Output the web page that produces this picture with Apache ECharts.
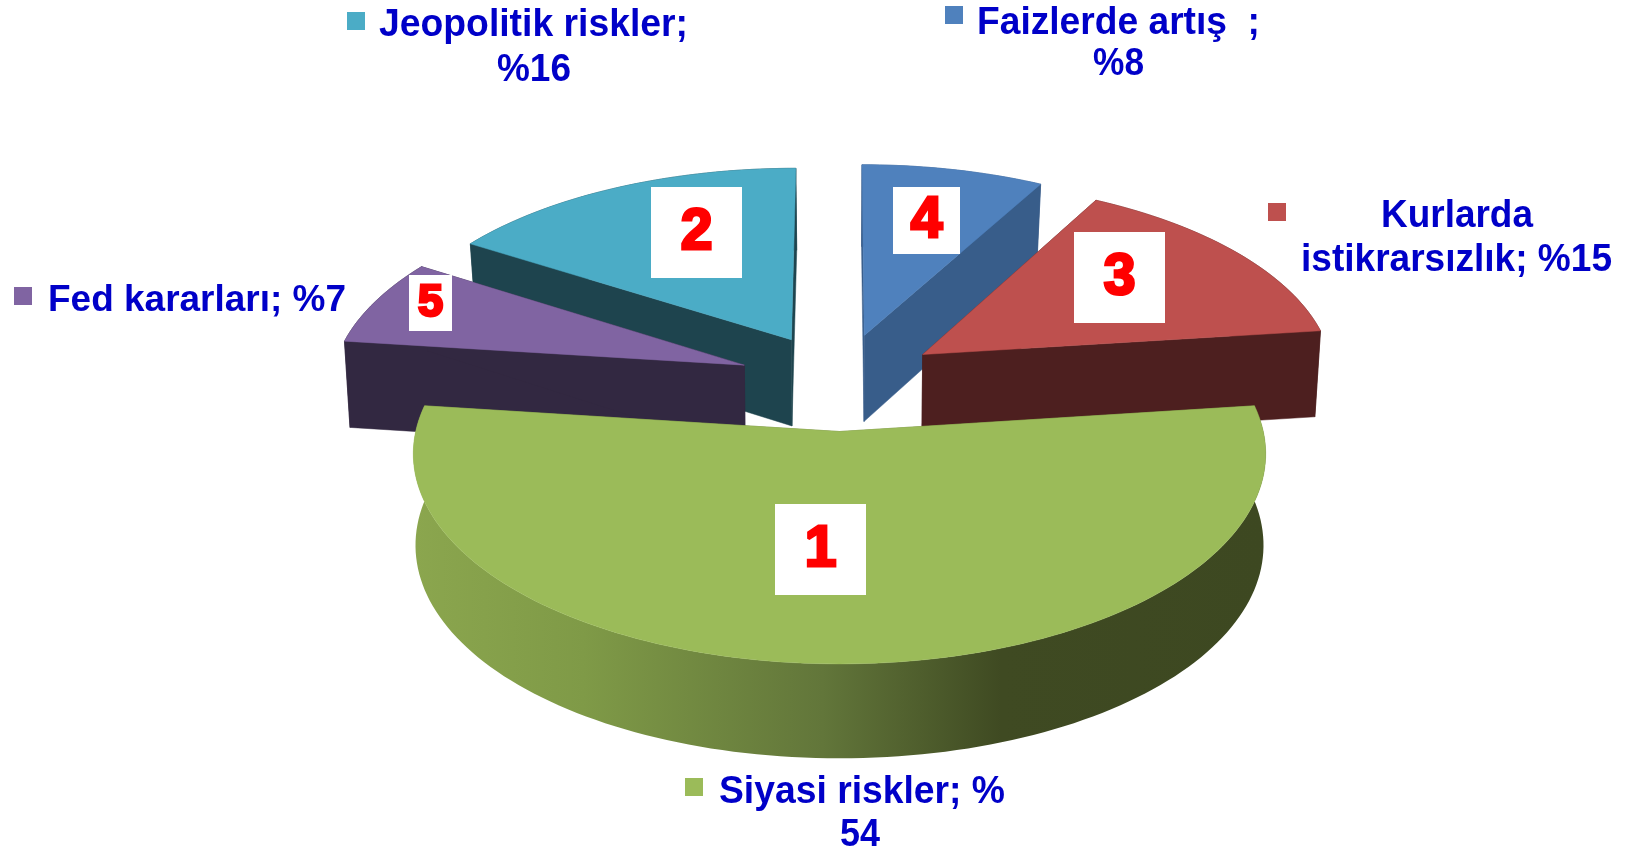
<!DOCTYPE html>
<html>
<head>
<meta charset="utf-8">
<title>Riskler</title>
<script src="https://cdn.jsdelivr.net/npm/echarts@6/dist/echarts.min.js"></script>
<style>
html,body{margin:0;padding:0;background:#fff;}
#main{width:1629px;height:851px;}
</style>
</head>
<body>
<div id="main"></div>
<script>
// slices clockwise from 12 o'clock
const categories = ['Faizlerde artış', 'Kurlarda istikrarsızlık', 'Siyasi riskler', 'Fed kararları', 'Jeopolitik riskler'];
const values = [8, 15, 54, 7, 16];
const ranks = ['4', '3', '1', '5', '2'];
const topColors = ['#4F81BD', '#BE504E', '#9BBB59', '#8064A2', '#4BACC6'];
const wallColors = ['#385D8A', '#4D1F1F', '#6B7F3C', '#322841', '#1E444E'];

// back slices first so the front ones paint over them
const drawOrder = [4, 0, 3, 1, 2];

// perspective of the pie, fitted by eye on the picture
const cx = 839.5, horizon = -1529.5, spread = 1911, camDist = 4000;
const radius = 413, explode = 102;

function project(X, Z, low) {
    const k = camDist / (camDist - Z);
    let x = cx + X * k;
    let y = horizon + spread * k;
    if (low) {
        x = cx + (x - cx) * (0.988 + (k - 0.97) * 0.1);
        y += 48.3 * k + 39;
    }
    return [x, y];
}

function sliceAngles(idx) {
    const total = values.reduce((a, b) => a + b, 0);
    let sum = 0;
    for (let i = 0; i < idx; i++) sum += values[i];
    const a0 = sum / total * Math.PI * 2;
    return [a0, a0 + values[idx] / total * Math.PI * 2];
}

function renderSlice(params, api) {
    const idx = api.value(0);
    const [a0, a1] = sliceAngles(idx);
    const mid = (a0 + a1) / 2;
    const ox = explode * Math.sin(mid), oz = -explode * Math.cos(mid);
    const rim = function (low) {
        const pts = [];
        const n = Math.ceil((a1 - a0) * 40);
        for (let i = 0; i <= n; i++) {
            const t = a0 + (a1 - a0) * i / n;
            pts.push(project(ox + radius * Math.sin(t), oz - radius * Math.cos(t), low));
        }
        return pts;
    };
    const apex = project(ox, oz, false), apexLow = project(ox, oz, true);
    const top = rim(false), low = rim(true);
    const wall = idx === 2
        ? new echarts.graphic.LinearGradient(0, 0, 1, 0, [
            {offset: 0, color: '#8BA64E'},
            {offset: 0.2, color: '#7F9A47'},
            {offset: 0.48, color: '#62763A'},
            {offset: 0.69, color: '#3F4A22'},
            {offset: 1, color: '#3D4821'}
        ])
        : wallColors[idx];
    const poly = (points, fill) => ({
        type: 'polygon',
        shape: {points: points},
        style: {fill: fill, stroke: idx === 2 && fill === wall ? null : fill, lineWidth: 0.5}
    });
    return {
        type: 'group',
        children: [
            poly(top.concat(low.slice().reverse()), wall),
            poly([apex, top[0], low[0], apexLow], wallColors[idx]),
            poly([apex, top[top.length - 1], low[low.length - 1], apexLow], wallColors[idx]),
            poly([apex].concat(top), topColors[idx])
        ]
    };
}

// text helper: squeeze a line to the width it has in the picture
const measure = document.createElement('canvas').getContext('2d');
function labelLine(text, left, right, y, size) {
    const font = 'bold ' + (size || 39) + 'px "Liberation Sans"';
    measure.font = font;
    return {
        type: 'text', z: 20, x: left, y: y,
        scaleX: (right - left) / measure.measureText(text).width,
        style: {text: text, font: font, fill: '#0000C8', textAlign: 'left', textVerticalAlign: 'middle'}
    };
}
function keySquare(idx, x, y) {
    return {type: 'rect', z: 20, shape: {x: x, y: y, width: 18, height: 18}, style: {fill: topColors[idx]}};
}
function rankBox(idx, x, y, w, h, size) {
    return {
        type: 'group', z: 20,
        children: [
            {type: 'rect', z: 20, shape: {x: x, y: y, width: w, height: h}, style: {fill: '#fff'}},
            {
                type: 'text', z: 21, x: x + w / 2, y: y + h / 2 + 1,
                style: {
                    text: ranks[idx], fill: '#FF0000', stroke: '#FF0000', lineWidth: 3,
                    font: 'bold ' + size + 'px "Liberation Sans"',
                    textAlign: 'center', textVerticalAlign: 'middle'
                }
            }
        ]
    };
}

const option = {
    backgroundColor: '#fff',
    animation: false,
    series: [{
        type: 'custom',
        coordinateSystem: 'none',
        name: 'Riskler',
        data: drawOrder.map(i => [i, values[i]]),
        renderItem: renderSlice
    }],
    graphic: {
        elements: [
            keySquare(4, 347, 12),
            labelLine(categories[4] + ';', 379, 688, 25),
            labelLine('%' + values[4], 497, 571, 70),
            keySquare(0, 945, 6),
            labelLine(categories[0] + '  ;', 977, 1260, 23),
            labelLine('%' + values[0], 1093, 1144, 64),
            keySquare(1, 1268, 203),
            labelLine('Kurlarda', 1381, 1533, 216),
            labelLine('istikrarsızlık; %' + values[1], 1301, 1612, 260),
            keySquare(3, 14, 287),
            labelLine(categories[3] + '; %' + values[3], 48, 346, 301, 37),
            keySquare(2, 685, 778),
            labelLine(categories[2] + '; %', 719, 1005, 792),
            labelLine(String(values[2]), 840, 880, 835),
            rankBox(2, 775, 504, 91, 91, 57),
            rankBox(4, 651, 187, 91, 91, 57),
            rankBox(1, 1074, 232, 91, 91, 57),
            rankBox(0, 893, 187, 67, 67, 57),
            rankBox(3, 409, 275, 43, 56, 45)
        ]
    }
};

const chart = echarts.init(document.getElementById('main'), null, {renderer: 'canvas'});
chart.setOption(option);
</script>
</body>
</html>
